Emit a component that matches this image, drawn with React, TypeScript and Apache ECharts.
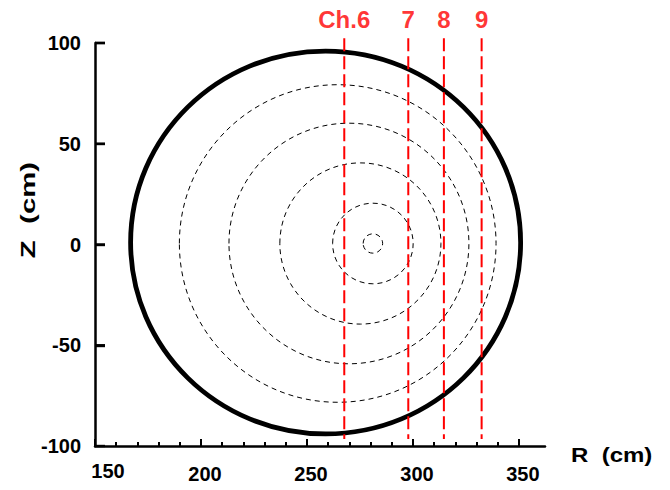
import React, { useEffect, useRef } from "react";
import * as echarts from "echarts";

// Axis ticks
const xMajorTicks = [150, 200, 250, 300, 350];
const xMinorTicks = [160, 170, 180, 190, 210, 220, 230, 240, 260, 270, 280, 290, 310, 320, 330, 340];
const yTicks = [-50, 0, 50, 100];
const xMin = 150;
const xMax = 362.3;

// Vessel boundary (thick black)
const vesselCenterR = [258.8];
const vesselCenterZ = [1.0];
const vesselRadiusR = [92];
const vesselRadiusZ = [95];

// Flux surfaces (dashed)
const surfaceCenterR = [281.1, 281.1, 275.2, 269.8, 264.5];
const surfaceCenterZ = [0.5, 0.5, 0.5, 0.5, 0.5];
const surfaceRadiusR = [4.6, 19.0, 38.0, 56.6, 74.7];
const surfaceRadiusZ = [4.8, 20.0, 40.0, 59.7, 78.8];

// Viewing chords
const channelNames = ["Ch.6", "7", "8", "9"];
const channelR = [267.6, 297.8, 314.6, 332.4];
const chordTopZ = [102.3, 102.3, 102.3, 102.3];
const chordBottomZ = [-96.5, -96.5, -96.5, -96.5];

const FONT = "Arial, 'Liberation Sans', sans-serif";

export default function App() {
  const ref = useRef<HTMLDivElement>(null);
  useEffect(() => {
    if (!ref.current) return;
    const chart = echarts.init(ref.current, undefined, { renderer: "svg" });

    const ellipseItem = (dashed: boolean) => (params: any, api: any) => {
      const c = api.coord([api.value(0), api.value(1)]);
      const s = api.size([api.value(2), api.value(3)]);
      return {
        type: "ellipse",
        shape: { cx: c[0], cy: c[1], rx: s[0], ry: s[1] },
        style: dashed
          ? { fill: "none", stroke: "#000", lineWidth: 1, lineDash: [5, 4] }
          : { fill: "none", stroke: "#000", lineWidth: 4.8 },
      };
    };

    const series: any[] = [
      {
        type: "custom",
        name: "vessel",
        renderItem: ellipseItem(false),
        clip: false,
        encode: { x: 0, y: 1 },
        data: vesselCenterR.map((r, i) => [r, vesselCenterZ[i], vesselRadiusR[i], vesselRadiusZ[i]]),
        silent: true,
      },
      {
        type: "custom",
        name: "surfaces",
        renderItem: ellipseItem(true),
        clip: false,
        encode: { x: 0, y: 1 },
        data: surfaceCenterR.map((r, i) => [r, surfaceCenterZ[i], surfaceRadiusR[i], surfaceRadiusZ[i]]),
        silent: true,
      },
      {
        // Z-axis tick marks (inward)
        type: "custom",
        name: "yTicks",
        renderItem: (params: any, api: any) => {
          const p = api.coord([api.value(0), api.value(1)]);
          return {
            type: "rect",
            shape: { x: p[0], y: p[1] - 1.2, width: 10, height: 2.4 },
            style: { fill: "#000" },
          };
        },
        clip: false,
        encode: { x: 0, y: 1 },
        data: yTicks.map((v) => [xMin, v]),
        silent: true,
        z: 4,
      },
    ];

    channelR.forEach((r, i) => {
      series.push({
        type: "line",
        name: channelNames[i],
        clip: false,
        symbol: "none",
        lineStyle: { color: "#ff0000", width: 2, type: [13, 5] },
        data: [
          [r, chordTopZ[i]],
          [r, chordBottomZ[i]],
        ],
        silent: true,
        z: 5,
      });
    });

    series.push({
      type: "scatter",
      name: "labels",
      clip: false,
      symbolSize: 1,
      itemStyle: { color: "rgba(0,0,0,0)" },
      data: channelR.map((r, i) => ({ value: [r, chordTopZ[i]], name: channelNames[i] })),
      label: {
        show: true,
        position: "top",
        distance: 6,
        formatter: (p: any) => p.name,
        color: "#ff0000",
        fontSize: 24,
        fontWeight: "bold",
        fontFamily: FONT,
      },
      silent: true,
      z: 6,
    });

    const option: any = {
      animation: false,
      backgroundColor: "#ffffff",
      grid: { left: 95, right: 125, top: 43, bottom: 44 },
      xAxis: [
        {
          type: "value",
          min: xMin,
          max: xMax,
          axisLine: { show: true, onZero: false, lineStyle: { color: "#000", width: 2.5 } },
          axisTick: {
            show: true,
            inside: true,
            length: 7,
            lineStyle: { color: "#000", width: 2 },
            customValues: xMajorTicks,
          },
          axisLabel: {
            show: true,
            customValues: xMajorTicks,
            margin: 15,
            formatter: (v: number) => (v === 150 ? "{s|" + v + "}" : "{n|" + v + "}"),
            rich: {
              n: { fontSize: 20, fontWeight: "bold", fontFamily: FONT, color: "#000", padding: [3, 0, 0, 8] },
              s: { fontSize: 20, fontWeight: "bold", fontFamily: FONT, color: "#000", padding: [0, 0, 0, 26] },
            },
          },
          splitLine: { show: false },
        },
        {
          type: "value",
          min: xMin,
          max: xMax,
          position: "bottom",
          axisLine: { show: false, onZero: false },
          axisTick: {
            show: true,
            inside: true,
            length: 4,
            lineStyle: { color: "#000", width: 2 },
            customValues: xMinorTicks,
          },
          axisLabel: { show: false },
          splitLine: { show: false },
        },
      ],
      yAxis: {
        type: "value",
        min: -100,
        max: 100,
        interval: 50,
        position: "left",
        axisLine: { show: true, onZero: false, lineStyle: { color: "#000", width: 2.5 } },
        axisTick: { show: true, inside: true, length: 10, lineStyle: { color: "#000", width: 2.4 } },
        axisLabel: {
          show: true,
          margin: 14,
          fontSize: 20,
          fontWeight: "bold",
          fontFamily: FONT,
          color: "#000",
        },
        splitLine: { show: false },
      },
      graphic: [
        {
          type: "text",
          x: 571,
          y: 455,
          scaleX: 1.2,
          style: {
            text: "R  (cm)",
            fontSize: 20,
            fontWeight: "bold",
            fontFamily: FONT,
            fill: "#000",
            align: "left",
            verticalAlign: "middle",
          },
        },
        {
          type: "text",
          x: 28,
          y: 210,
          rotation: Math.PI / 2,
          scaleX: 1.4,
          style: {
            text: "Z  (cm)",
            fontSize: 21,
            fontWeight: "bold",
            fontFamily: FONT,
            fill: "#000",
            align: "center",
            verticalAlign: "middle",
          },
        },
      ],
      series,
    };

    chart.setOption(option);
    return () => chart.dispose();
  }, []);

  return (
    <div
      ref={ref}
      style={{ position: "fixed", left: 0, top: 0, width: 670, height: 490, background: "#fff" }}
    />
  );
}
